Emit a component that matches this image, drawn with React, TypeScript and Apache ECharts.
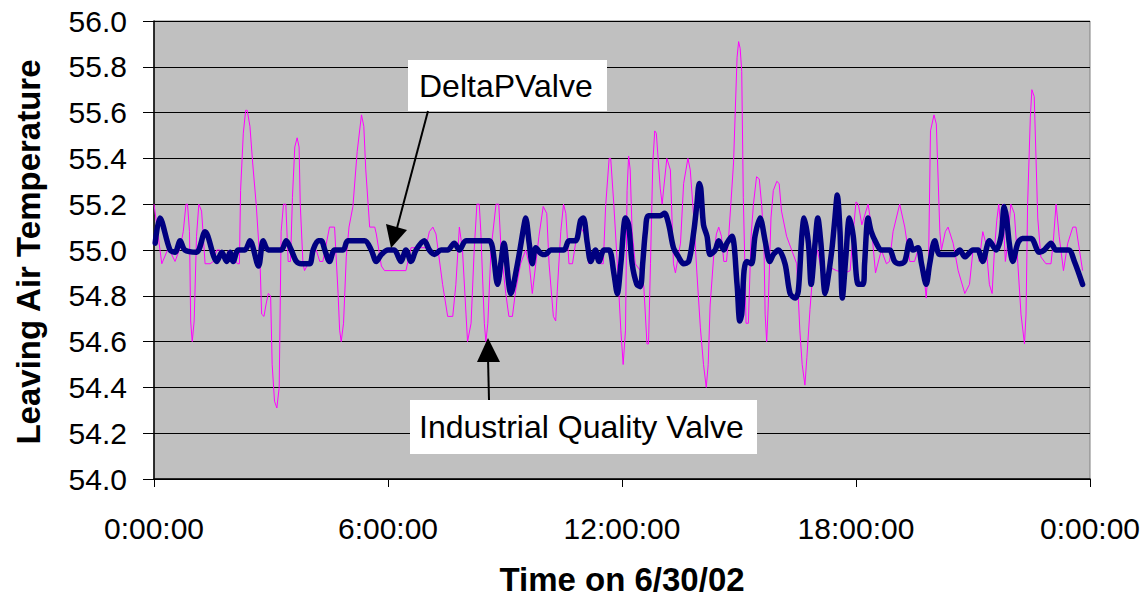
import React, { useEffect, useRef } from "react";
import * as echarts from "echarts";

// Time (hours since 0:00 on 6/30/02) and leaving-air temperature readings
const iqvTimes = [
  0, 0.2, 0.37, 0.54, 0.67, 0.75, 0.82, 0.86, 0.91, 0.94, 0.98, 1.03, 1.09, 1.15, 1.22, 1.31, 1.44, 1.52, 1.61, 1.69, 1.82, 1.91, 2.14, 2.19, 2.22, 2.29, 2.35, 2.39, 2.46, 2.53, 2.62, 2.72, 2.76, 2.82, 2.87, 2.93,
  2.99, 3.03, 3.09, 3.15, 3.21, 3.26, 3.32, 3.38, 3.44, 3.5, 3.55, 3.61, 3.67, 3.72, 3.75, 3.82, 3.86, 3.95, 4.06, 4.16, 4.25, 4.33, 4.5, 4.63, 4.72, 4.76, 4.8, 4.86, 4.93, 5.0, 5.1, 5.21, 5.32, 5.38, 5.43, 5.49, 5.53, 5.66, 5.7, 5.83, 5.91, 6.46,
  6.59, 6.97, 7.06, 7.15, 7.23, 7.4, 7.53, 7.66, 7.74, 7.83, 7.91, 8.0, 8.04, 8.13, 8.21, 8.28, 8.34, 8.38, 8.47, 8.51, 8.56, 8.64, 8.77, 8.84, 8.9,
  9.02, 9.1, 9.19, 9.27, 9.4, 9.53, 9.62, 9.7, 9.79, 9.87, 9.98, 10.07, 10.13, 10.24, 10.3, 10.34, 10.43, 10.5, 10.56, 10.64, 10.73, 10.81, 10.94, 11.07, 11.15, 11.28, 11.37, 11.45, 11.52, 11.58, 11.67, 11.71, 11.79, 11.88, 11.97, 12.03,
  12.09, 12.13, 12.17, 12.21, 12.26, 12.34, 12.47, 12.56, 12.64, 12.68, 12.73, 12.79, 12.84, 12.88, 12.98, 13.03, 13.07, 13.15, 13.24, 13.32, 13.37, 13.5, 13.58, 13.69, 13.75, 13.84, 13.92, 14.01, 14.09, 14.16, 14.21, 14.26, 14.35, 14.42, 14.48, 14.55, 14.61, 14.68, 14.74, 14.86, 14.95, 14.99,
  15.03, 15.07, 15.11, 15.15, 15.18, 15.24, 15.31, 15.37, 15.45, 15.52, 15.58, 15.64, 15.67, 15.71, 15.75, 15.82, 15.88, 15.97, 16.03, 16.09, 16.22, 16.35, 16.48, 16.56, 16.62, 16.69, 16.74, 16.82, 16.91, 17.01, 17.08, 17.16, 17.22, 17.29, 17.38, 17.5, 17.72, 17.85, 17.93, 18.0, 18.06,
  18.15, 18.31, 18.39, 18.5, 18.65, 18.78, 18.86, 18.95, 19.12, 19.25, 19.38, 19.5, 19.59, 19.72, 19.8, 19.86, 19.91, 20.0, 20.06, 20.15, 20.19, 20.29, 20.36, 20.49, 20.62, 20.79, 20.91, 21.0, 21.13,
  21.16, 21.25, 21.33, 21.42, 21.49, 21.55, 21.61, 21.66, 21.72, 21.76, 21.83, 21.89, 21.97, 22.06, 22.15, 22.23, 22.32, 22.36, 22.4, 22.47, 22.51, 22.57, 22.66, 22.74, 22.87, 23.0, 23.06, 23.13, 23.21, 23.32, 23.43, 23.56, 23.64, 23.81,
];
const iqvValues = [
  55.2, 54.94, 55.01, 54.95, 55.01, 55.08, 55.2, 55.2, 55.08, 54.69, 54.6, 54.69, 55.06, 55.2, 55.17, 54.94, 54.94, 54.95, 55.0, 55.0, 54.95, 55.0, 54.94, 54.94, 55.26, 55.51, 55.61, 55.61, 55.54, 55.38, 55.2, 54.94, 54.72, 54.71, 54.76, 54.81,
  54.8, 54.5, 54.34, 54.31, 54.4, 55.08, 55.2, 55.2, 54.95, 54.95, 55.23, 55.45, 55.49, 55.45, 55.2, 54.94, 54.91, 54.94, 54.98, 55.0, 54.95, 54.95, 55.1, 55.1, 54.81, 54.65, 54.6, 54.68, 54.97, 55.1, 55.19, 55.43, 55.59, 55.54, 55.35, 55.2, 55.1, 55.1, 55.07, 54.93, 54.91, 54.91,
  55.01, 55.01, 55.08, 55.1, 55.07, 54.85, 54.71, 54.71, 54.85, 55.1, 55.0, 54.72, 54.6, 54.68, 55.0, 55.2, 55.2, 55.08, 54.68, 54.6, 54.68, 55.0, 55.2, 55.2, 55.0,
  54.81, 54.71, 54.71, 54.82, 54.94, 55.0, 54.94, 54.81, 54.94, 55.06, 55.19, 55.16, 54.94, 54.71, 54.69, 54.82, 55.08, 55.2, 55.16, 54.94, 54.94, 55.03, 55.1, 55.06, 54.94, 54.97, 55.0, 54.94, 54.94, 55.19, 55.4, 55.4, 55.2, 54.94, 54.65, 54.5,
  54.65, 55.26, 55.41, 55.35, 55.08, 54.94, 54.91, 54.84, 54.59, 54.59, 54.94, 55.38, 55.52, 55.51, 55.27, 55.2, 55.27, 55.4, 55.35, 54.94, 54.9, 55.03, 55.29, 55.4, 55.35, 55.14, 54.9, 54.66, 54.5, 54.4, 54.5, 54.76, 54.97, 55.07, 55.1, 55.06, 54.95, 54.95, 55.07, 55.38, 55.84, 55.91,
  55.88, 55.78, 55.23, 54.94, 54.68, 54.68, 55.06, 55.2, 55.32, 55.31, 55.2, 55.03, 54.72, 54.6, 54.76, 55.14, 55.26, 55.3, 55.29, 55.17, 55.06, 55.0, 54.94, 54.65, 54.5, 54.41, 54.53, 54.74, 54.94, 55.0, 54.94, 54.85, 54.85, 54.91, 54.92, 54.91, 54.9, 54.91, 55.08, 55.21, 55.2,
  55.11, 55.2, 55.11, 54.9, 55.0, 54.94, 54.95, 55.08, 55.2, 55.1, 54.95, 54.95, 55.0, 54.94, 54.79, 54.94, 55.52, 55.59, 55.55, 55.08, 55.0, 55.08, 55.1, 55.03, 54.91, 54.81, 54.85, 55.0, 55.0,
  54.95, 55.08, 55.03, 54.85, 54.81, 55.0, 55.13, 55.2, 55.08, 55.2, 54.95, 55.03, 55.2, 55.16, 54.94, 54.72, 54.59, 54.72, 55.2, 55.58, 55.7, 55.67, 55.14, 54.97, 54.94, 54.94, 55.04, 55.2, 55.06, 54.91, 55.03, 55.1, 55.1, 54.91,
];

const dpvTimes = [
  0.03, 0.15, 0.41, 0.54, 0.67, 0.79, 1.09, 1.31, 1.61, 1.74, 1.86, 1.95, 2.03, 2.16, 2.33, 2.46, 2.68, 2.8, 2.93,
  3.26, 3.39, 3.52, 3.65, 3.78, 3.99, 4.08, 4.21, 4.29, 4.38, 4.5, 4.63, 4.85, 4.97, 5.4, 5.57, 5.7, 5.83, 6.0,
  6.16, 6.33, 6.46, 6.59, 6.72, 6.93, 7.06, 7.19, 7.36, 7.53, 7.7, 7.83, 8.0, 8.6, 8.68, 8.81, 8.9,
  8.97, 9.15, 9.32, 9.49, 9.53, 9.62, 9.7, 9.79, 9.96, 10.04, 10.17, 10.51, 10.64, 10.81, 10.94, 11.01, 11.11, 11.2, 11.32, 11.41, 11.54, 11.67, 11.79, 11.88, 11.97,
  12.09, 12.17, 12.26, 12.38, 12.47, 12.53, 12.6, 12.68, 12.98, 13.09, 13.2, 13.32, 13.45, 13.58, 13.71, 13.84, 13.92, 13.98, 14.02, 14.09, 14.18, 14.26, 14.39, 14.48, 14.61, 14.69, 14.82, 14.95,
  15.02, 15.07, 15.13, 15.2, 15.32, 15.41, 15.54, 15.67, 15.79, 15.88, 16.01, 16.18, 16.31, 16.44, 16.52, 16.61, 16.67, 16.78, 16.85, 16.95, 17.02, 17.1, 17.21, 17.26, 17.38, 17.46, 17.52, 17.59, 17.65, 17.74, 17.83, 17.93, 18.06,
  18.18, 18.22, 18.31, 18.39, 18.52, 18.65, 18.86, 18.99, 19.12, 19.25, 19.38, 19.46, 19.59, 19.68, 19.8, 19.89, 20.02, 20.15, 20.53, 20.66, 20.79, 21.0, 21.13,
  21.18, 21.25, 21.42, 21.59, 21.72, 21.8, 21.86, 21.93, 22.02, 22.15, 22.27, 22.49, 22.7, 22.83, 23.0, 23.13, 23.45, 23.6, 23.81,
];
const dpvValues = [
  55.03, 55.14, 55.0, 54.99, 55.04, 55.0, 54.99, 55.08, 54.95, 54.99, 54.95, 54.99, 54.95, 55.0, 55.0, 55.04, 54.93, 55.04, 55.0,
  55.0, 55.04, 55.0, 54.95, 54.94, 54.94, 55.0, 55.04, 55.04, 55.0, 54.95, 55.0, 55.0, 55.04, 55.04, 55.0, 54.95, 54.98, 55.0,
  55.0, 54.95, 55.0, 54.95, 55.0, 55.04, 55.0, 54.98, 55.0, 55.0, 55.03, 55.0, 55.04, 55.04, 55.01, 54.85, 54.95,
  55.03, 54.81, 54.94, 55.11, 55.14, 55.03, 54.94, 55.01, 54.98, 54.98, 55.0, 55.0, 55.04, 55.04, 55.13, 55.14, 55.03, 54.95, 55.0, 54.95, 55.0, 55.0, 54.9, 54.81, 54.94,
  55.14, 55.11, 54.94, 54.85, 54.84, 54.94, 55.08, 55.15, 55.15, 55.16, 55.11, 55.01, 54.97, 54.94, 54.95, 55.08, 55.2, 55.29, 55.27, 55.11, 55.06, 54.98, 55.0, 55.04, 55.0, 55.03, 55.06, 54.85,
  54.69, 54.72, 54.91, 54.95, 54.94, 55.06, 55.14, 55.04, 54.95, 54.98, 55.0, 54.94, 54.81, 54.79, 54.82, 55.06, 55.14, 55.03, 54.85, 55.03, 55.14, 55.03, 54.81, 54.85, 55.0, 55.14, 55.24, 55.08, 54.79, 54.97, 55.14, 55.06, 54.85,
  54.85, 54.94, 55.14, 55.08, 55.03, 55.0, 55.0, 54.95, 54.94, 54.95, 55.04, 55.0, 55.01, 54.94, 54.85, 54.94, 55.04, 54.98, 54.98, 55.0, 54.97, 55.0, 55.0,
  54.98, 54.95, 55.04, 55.0, 55.06, 55.19, 55.14, 55.03, 54.95, 55.03, 55.05, 55.05, 54.99, 55.0, 55.03, 55.0, 55.0, 54.95, 54.85,
];

const yTicks = [54.0, 54.2, 54.4, 54.6, 54.8, 55.0, 55.2, 55.4, 55.6, 55.8, 56.0];
const xTickHours = [0, 6, 12, 18, 24];
const xTickLabels = ["0:00:00", "6:00:00", "12:00:00", "18:00:00", "0:00:00"];

const yTitle = "Leaving Air Temperature";
const xTitle = "Time on 6/30/02";
const dpvName = "DeltaPValve";
const iqvName = "Industrial Quality Valve";

const FONT = "'Liberation Sans', Arial, Helvetica, sans-serif";

export default function App() {
  const ref = useRef<HTMLDivElement>(null);

  useEffect(() => {
    if (!ref.current) return;
    const chart = echarts.init(ref.current, null, { renderer: "svg" });

    const zip = (t: number[], v: number[]) => t.map((x, i) => [x, v[i]]);

    chart.setOption({
      animation: false,
      backgroundColor: "#ffffff",
      grid: {
        left: 154,
        right: 57,
        top: 21,
        bottom: 119,
        show: true,
        backgroundColor: "#c0c0c0",
        borderColor: "#808080",
        borderWidth: 1,
      },
      xAxis: {
        type: "value",
        min: xTickHours[0],
        max: xTickHours[xTickHours.length - 1],
        interval: 6,
        axisLine: { show: true, lineStyle: { color: "#000", width: 1.5 } },
        axisTick: { show: true, inside: false, length: 8, lineStyle: { color: "#000" } },
        splitLine: { show: false },
        axisLabel: {
          margin: 34,
          fontSize: 30,
          fontFamily: FONT,
          color: "#000",
          formatter: (v: number) => {
            const i = xTickHours.indexOf(Math.round(v));
            return i >= 0 ? xTickLabels[i] : "";
          },
        },
      },
      yAxis: {
        type: "value",
        min: yTicks[0],
        max: yTicks[yTicks.length - 1],
        interval: 0.2,
        axisLine: { show: true, lineStyle: { color: "#000", width: 1.5 } },
        axisTick: { show: true, inside: false, length: 11, lineStyle: { color: "#000" } },
        splitLine: { show: true, lineStyle: { color: "#000", width: 1 } },
        axisLabel: {
          margin: 27,
          fontSize: 30,
          fontFamily: FONT,
          color: "#000",
          formatter: (v: number) => v.toFixed(1),
        },
      },
      series: [
        {
          name: iqvName,
          type: "line",
          data: zip(iqvTimes, iqvValues),
          showSymbol: false,
          symbol: "none",
          lineStyle: { color: "#ff00ff", width: 1 },
          z: 2,
        },
        {
          name: dpvName,
          type: "line",
          data: zip(dpvTimes, dpvValues),
          showSymbol: false,
          symbol: "none",
          smooth: 0.3,
          lineStyle: { color: "#000080", width: 5.5, cap: "round", join: "round" },
          z: 3,
        },
      ],
      graphic: [
        {
          type: "text",
          x: 28,
          y: 252,
          rotation: Math.PI / 2,
          style: {
            text: yTitle,
            font: `bold 33px ${FONT}`,
            fill: "#000",
            align: "center",
            verticalAlign: "middle",
          },
        },
        {
          type: "text",
          x: 622,
          y: 579,
          style: {
            text: xTitle,
            font: `bold 33px ${FONT}`,
            fill: "#000",
            align: "center",
            verticalAlign: "middle",
          },
        },
        {
          type: "rect",
          shape: { x: 408, y: 60, width: 199, height: 51 },
          style: { fill: "#ffffff" },
          z: 100,
        },
        {
          type: "text",
          x: 419,
          y: 86,
          style: { text: dpvName, font: `32px ${FONT}`, fill: "#000", align: "left", verticalAlign: "middle" },
          z: 101,
        },
        {
          type: "line",
          shape: { x1: 428, y1: 111, x2: 397, y2: 228 },
          style: { stroke: "#000", lineWidth: 2 },
          z: 101,
        },
        {
          type: "polygon",
          shape: { points: [[391, 248], [407, 230], [386, 224]] },
          style: { fill: "#000" },
          z: 101,
        },
        {
          type: "rect",
          shape: { x: 410, y: 400, width: 347, height: 54 },
          style: { fill: "#ffffff" },
          z: 100,
        },
        {
          type: "text",
          x: 419,
          y: 427,
          style: { text: iqvName, font: `32px ${FONT}`, fill: "#000", align: "left", verticalAlign: "middle" },
          z: 101,
        },
        {
          type: "line",
          shape: { x1: 489, y1: 400, x2: 488, y2: 358 },
          style: { stroke: "#000", lineWidth: 2 },
          z: 101,
        },
        {
          type: "polygon",
          shape: { points: [[488, 338], [477, 362], [500, 362]] },
          style: { fill: "#000" },
          z: 101,
        },
      ],
    });

    return () => chart.dispose();
  }, []);

  return (
    <div
      ref={ref}
      style={{ position: "absolute", left: 0, top: 0, width: 1147, height: 598 }}
    />
  );
}
